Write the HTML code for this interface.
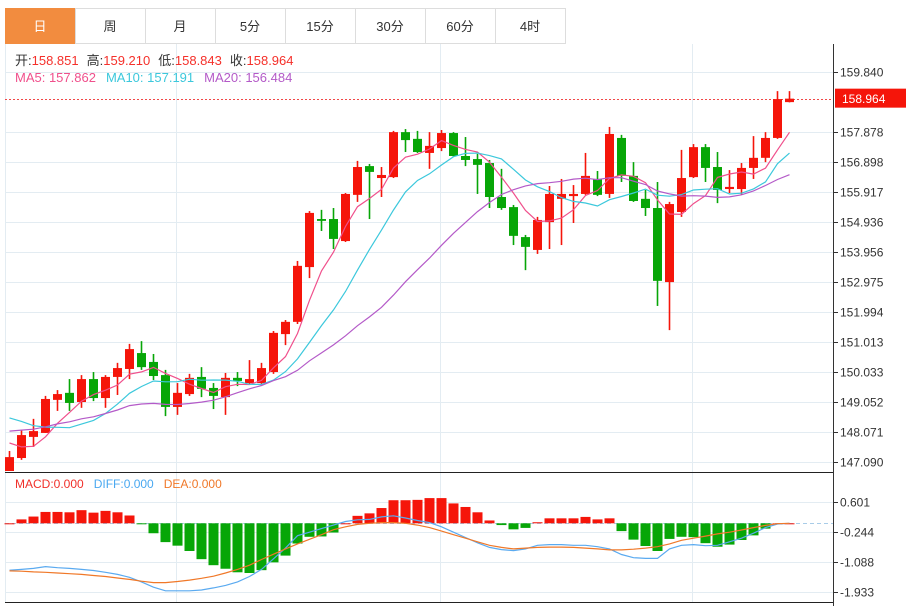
<!DOCTYPE html>
<html><head><meta charset="utf-8"><style>
body{margin:0;background:#fff;}
svg{display:block;font-family:"Liberation Sans","Noto Sans CJK SC",sans-serif;}
</style></head><body>
<svg id="chart" width="913" height="608" viewBox="0 0 913 608" xmlns="http://www.w3.org/2000/svg">
<g id="tabs"></g>
<g id="grid"></g>
<g id="candles"></g>
<g id="mas"></g>
<g id="macd"></g>
<g id="axis"></g>
<g font-size="13">
<text x="15" y="65"><tspan fill="#333">开:</tspan><tspan fill="#f5302a">158.851</tspan><tspan fill="#333" dx="8">高:</tspan><tspan fill="#f5302a">159.210</tspan><tspan fill="#333" dx="8">低:</tspan><tspan fill="#f5302a">158.843</tspan><tspan fill="#333" dx="8">收:</tspan><tspan fill="#f5302a">158.964</tspan></text>
<text x="15" y="82"><tspan fill="#f0508c">MA5: 157.862</tspan><tspan fill="#3cc8dc" dx="10">MA10: 157.191</tspan><tspan fill="#b45ac8" dx="10">MA20: 156.484</tspan></text>
<text x="15" y="488" font-size="12"><tspan fill="#f0302a">MACD:0.000</tspan><tspan fill="#4aa8f0" dx="10">DIFF:0.000</tspan><tspan fill="#f07828" dx="10">DEA:0.000</tspan></text>
</g>
</svg>
<script>
const tabLabels=["日","周","月","5分","15分","30分","60分","4时"];
const priceTicks=[159.840,157.878,156.898,155.917,154.936,153.956,152.975,151.994,151.013,150.033,149.052,148.071,147.090];
const macdTicks=[0.601,-0.244,-1.088,-1.933];
const prevCloses=[147.3,147.5,147.6,147.4,147.7,147.8,147.9,147.7,147.9,147.9,149.1,149.5,149.6,149.4,149.15,148.6,148.0,147.6,147.1];
const opens=[146.76,147.22,147.91,148.04,149.12,149.35,149.05,149.80,149.18,149.87,150.13,150.65,150.36,149.93,148.89,149.31,149.87,149.51,149.21,149.84,149.67,149.67,150.03,151.27,151.67,153.46,155.03,155.03,154.31,155.82,156.76,156.37,156.40,157.87,157.65,157.19,157.35,157.84,157.09,156.99,156.86,155.75,155.42,154.44,154.02,154.93,155.69,155.78,155.85,156.34,155.85,157.68,156.44,155.69,155.39,152.97,155.26,156.40,157.38,156.73,156.01,156.01,156.70,157.03,157.68,158.851];
const highs=[147.45,148.14,148.50,149.25,149.44,149.80,149.93,150.03,149.93,150.33,150.95,151.04,150.62,150.10,149.67,149.97,150.19,149.67,150.00,150.03,150.42,150.33,151.37,151.73,153.66,155.29,155.33,155.39,155.88,156.93,156.83,156.73,157.91,157.97,157.91,157.87,157.94,157.87,157.71,157.16,156.96,156.67,155.49,154.51,155.10,156.11,156.34,156.14,157.19,156.60,158.04,157.78,156.89,155.98,156.24,155.59,157.29,157.48,157.48,157.22,156.63,156.86,157.74,157.87,159.21,159.21];
const lows=[146.70,147.16,147.58,148.04,148.76,148.76,148.86,149.08,148.86,149.28,149.80,150.10,149.77,148.59,148.63,149.25,149.21,148.82,148.63,149.57,149.61,149.64,149.97,150.91,151.60,153.10,154.64,154.05,154.28,155.59,155.03,155.75,156.37,157.22,157.19,156.67,157.25,157.06,156.76,155.85,155.39,155.33,154.18,153.36,153.89,154.05,154.18,154.90,155.82,155.78,155.72,156.24,155.59,155.13,152.19,151.40,155.10,156.37,156.24,155.55,155.88,155.82,156.34,156.89,157.65,158.843];
const closes=[147.25,147.97,148.10,149.15,149.31,149.02,149.80,149.18,149.87,150.16,150.78,150.19,149.90,148.89,149.35,149.84,149.48,149.25,149.84,149.74,149.80,150.16,151.31,151.67,153.50,155.23,154.97,154.38,155.85,156.73,156.57,156.47,157.87,157.61,157.22,157.42,157.84,157.09,156.96,156.80,155.75,155.39,154.48,154.12,155.00,155.85,155.85,155.85,156.44,155.82,157.81,156.44,155.62,155.39,153.01,155.52,156.37,157.38,156.70,155.98,156.08,156.70,157.03,157.68,158.95,158.964];
const macdHist=[0,0.11,0.19,0.32,0.32,0.31,0.37,0.30,0.35,0.31,0.22,-0.02,-0.28,-0.53,-0.63,-0.78,-1.01,-1.18,-1.28,-1.38,-1.40,-1.32,-1.10,-0.91,-0.57,-0.38,-0.37,-0.26,0,0.21,0.28,0.43,0.65,0.65,0.66,0.71,0.71,0.56,0.46,0.31,0.08,-0.05,-0.17,-0.13,0.03,0.14,0.14,0.14,0.18,0.11,0.14,-0.22,-0.46,-0.64,-0.78,-0.44,-0.38,-0.39,-0.56,-0.66,-0.60,-0.47,-0.34,-0.15,0,0];
const diffVals=[-1.32,-1.30,-1.27,-1.22,-1.25,-1.27,-1.30,-1.33,-1.38,-1.44,-1.52,-1.65,-1.80,-1.90,-1.90,-1.90,-1.88,-1.82,-1.75,-1.65,-1.50,-1.30,-1.00,-0.70,-0.35,-0.25,-0.15,-0.05,0.05,0.10,0.11,0.18,0.21,0.15,0.08,0.02,-0.10,-0.25,-0.40,-0.55,-0.68,-0.74,-0.77,-0.72,-0.62,-0.60,-0.60,-0.62,-0.62,-0.66,-0.72,-0.88,-0.97,-0.99,-0.99,-0.72,-0.62,-0.60,-0.63,-0.62,-0.52,-0.42,-0.28,-0.12,-0.02,0.00];
const deaVals=[-1.34,-1.35,-1.37,-1.38,-1.40,-1.42,-1.44,-1.47,-1.50,-1.54,-1.58,-1.63,-1.67,-1.67,-1.64,-1.60,-1.55,-1.49,-1.40,-1.30,-1.18,-1.02,-0.87,-0.72,-0.58,-0.45,-0.32,-0.18,-0.10,-0.03,0.00,0.02,0.02,0.00,-0.05,-0.12,-0.22,-0.32,-0.42,-0.52,-0.62,-0.68,-0.72,-0.70,-0.68,-0.67,-0.67,-0.68,-0.70,-0.72,-0.75,-0.75,-0.73,-0.70,-0.66,-0.58,-0.48,-0.42,-0.36,-0.30,-0.25,-0.19,-0.12,-0.06,-0.01,0.00];
const lastPrice=158.964;

const NS="http://www.w3.org/2000/svg";
function mk(parent,tag,attrs){const e=document.createElementNS(NS,tag);for(const k in attrs)e.setAttribute(k,attrs[k]);parent.appendChild(e);return e;}
const xOf=i=>9.5+12*i;
const yP=p=>462-(p-147.09)*30.6;
const yM=v=>523.3-v*35.5;
const RED="#f5150a",GREEN="#07a607";

const tabs=document.getElementById('tabs');
tabLabels.forEach((t,i)=>{
  const g=mk(tabs,'g',{});
  
  
  mk(g,'rect',{x:5+70*i+0.5,y:8.5,width:70,height:35,fill:i===0?'#f28c3f':'#fff',stroke:i===0?'#f28c3f':'#ddd'});
  const tx=mk(g,'text',{x:5+70*i+35,y:31,'text-anchor':'middle','font-size':13,fill:i===0?'#fff':'#333'});
  tx.textContent=t;
});
const grid=document.getElementById('grid');
priceTicks.forEach(p=>{const l=mk(grid,'line',{x1:5,x2:833,y1:Math.round(yP(p))+0.5,y2:Math.round(yP(p))+0.5,stroke:'#e3ecf2'});});
macdTicks.forEach(v=>{const l=mk(grid,'line',{x1:5,x2:833,y1:Math.round(yM(v))+0.5,y2:Math.round(yM(v))+0.5,stroke:'#e3ecf2'});});
[176,440,692].forEach(x=>{mk(grid,'line',{x1:x+0.5,x2:x+0.5,y1:44,y2:602,stroke:'#e3ecf2'});});
mk(grid,'line',{x1:5.5,x2:5.5,y1:44,y2:602,stroke:'#e3ecf2'});
mk(grid,'line',{x1:5,x2:833,y1:472.5,y2:472.5,stroke:'#222'});
mk(grid,'line',{x1:5,x2:833,y1:602.5,y2:602.5,stroke:'#222'});
const lpl=mk(grid,'line',{x1:5,x2:833,y1:99.5,y2:99.5,stroke:'#f04848','stroke-dasharray':'2,2'});



const cg=document.getElementById('candles');
opens.forEach((o,i)=>{
  const c=closes[i],up=c>=o,col=up?RED:GREEN,x=xOf(i);
  const g=mk(cg,'g',{});
  
  
  mk(g,'line',{x1:x,x2:x,y1:Math.min(yP(highs[i]),470),y2:Math.min(yP(lows[i]),471),stroke:col,'stroke-width':1.6});
  const t=Math.min(yP(o),yP(c)),b=Math.min(Math.max(yP(o),yP(c)),471);
  mk(g,'rect',{x:x-4.5,y:t,width:9,height:Math.max(b-t,1.5),fill:col});
});
const all=prevCloses.concat(closes),off=prevCloses.length;
function ma(n){return closes.map((_,i)=>{let s=0,k=0;for(let j=off+i;j>off+i-n&&j>=0;j--){s+=all[j];k++;}return s/k;});}
[[5,'#f0508c'],[10,'#3cc8dc'],[20,'#b45ac8']].forEach(([n,col])=>{
  const v=ma(n);
  const p=mk(document.getElementById('mas'),'polyline',{points:v.map((m,i)=>xOf(i)+','+yP(m).toFixed(1)).join(' '),fill:'none',stroke:col,'stroke-width':1.2});
  
  
});
const mg=document.getElementById('macd');
const zl=mk(mg,'line',{x1:5,x2:833,y1:523.5,y2:523.5,stroke:'#a8cce8','stroke-dasharray':'4,3'});


macdHist.forEach((v,i)=>{
  const y0=yM(0),y1=yM(v);
  const r=mk(mg,'rect',{x:xOf(i)-5,y:Math.min(y0,y1),width:10,height:Math.max(Math.abs(y1-y0),1),fill:v>=0?RED:GREEN});
  
  
});
[[diffVals,'#5aaaf0','diff-line'],[deaVals,'#f07828','dea-line']].forEach(([arr,col,nm])=>{
  const p=mk(mg,'polyline',{points:arr.map((v,i)=>xOf(i)+','+yM(v).toFixed(1)).join(' '),fill:'none',stroke:col,'stroke-width':1.2});
  
  
});
const ax=document.getElementById('axis');
mk(ax,'line',{x1:833.5,x2:833.5,y1:44,y2:606,stroke:'#333'});
priceTicks.forEach(p=>{const y=Math.round(yP(p))+0.5;mk(ax,'line',{x1:833,x2:838,y1:y,y2:y,stroke:'#333'});
  const t=mk(ax,'text',{x:840,y:y+4,'font-size':12,fill:'#333'});t.textContent=p.toFixed(3);
  });
macdTicks.forEach(v=>{const y=Math.round(yM(v))+0.5;mk(ax,'line',{x1:833,x2:838,y1:y,y2:y,stroke:'#333'});
  const t=mk(ax,'text',{x:840,y:y+4,'font-size':12,fill:'#333'});t.textContent=v.toFixed(3);
  });
const tag=mk(ax,'g',{});


mk(tag,'rect',{x:835,y:yP(lastPrice)-10,width:71,height:19,fill:'#f5150a'});
const lt=mk(tag,'text',{x:842,y:yP(lastPrice)+4.5,'font-size':12,fill:'#fff'});lt.textContent=lastPrice.toFixed(3);
</script>
</body></html>
